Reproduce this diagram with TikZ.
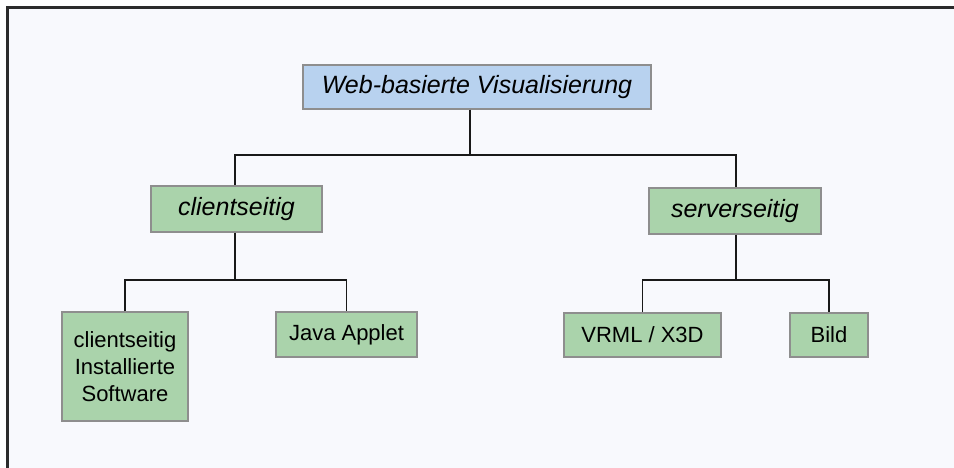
\documentclass[tikz,border=0pt]{standalone}
\usepackage{fontspec}
\setmainfont{Liberation Sans}
\definecolor{pagebg}{HTML}{F8F9FD}
\definecolor{framecol}{HTML}{2B2B2B}
\definecolor{rootfill}{HTML}{B8D2EF}
\definecolor{leaffill}{HTML}{AAD3AB}
\definecolor{boxline}{HTML}{8E8E8E}
\tikzset{
  box/.style={draw=boxline, line width=1.5pt, inner sep=0pt, align=center, text=black},
  rootbox/.style={box, fill=rootfill, font=\fontsize{25}{30}\selectfont\itshape},
  midbox/.style={box, fill=leaffill, font=\fontsize{25}{30}\selectfont\itshape},
  leafbox/.style={box, fill=leaffill, font=\fontsize{22}{27}\selectfont},
  wire/.style={draw=black!90, line width=1.8pt},
}
\begin{document}
\begin{tikzpicture}[x=1pt,y=-1pt]
\useasboundingbox (0,0) rectangle (954,468);
% page background and frame (running past the page edge on the right and bottom)
\fill[pagebg] (7.5,7.5) rectangle (964,478);
\draw[framecol, line width=2.2pt] (7.5,478) -- (7.5,7.5) -- (964,7.5);

% boxes
\node[rootbox, minimum width=348pt, minimum height=44pt] (web) at (477,87) {Web-basierte Visualisierung};
\node[midbox, minimum width=171pt, minimum height=46pt] (client) at (236.5,209) {clientseitig};
\node[midbox, minimum width=172pt, minimum height=46pt] (server) at (735,211) {serverseitig};
\node[leafbox, minimum width=126pt, minimum height=109pt] (soft) at (125,366.5) {clientseitig\\Installierte\\Software};
\node[leafbox, minimum width=141pt, minimum height=45pt] (java) at (346.5,334.5) {Java Applet};
\node[leafbox, minimum width=157pt, minimum height=44pt] (vrml) at (642.5,335) {VRML / X3D};
\node[leafbox, minimum width=78pt, minimum height=44pt] (bild) at (829,335) {Bild};

% junctions
\coordinate (j0) at (470,155);
\coordinate (j1) at (235,280);
\coordinate (j2) at (736,280);

% connectors
\draw[wire] (web.south -| j0) -- (j0);
\draw[wire] (client.north -| j1) |- (j0) -| (server.north -| j2);
\draw[wire] (client.south -| j1) -- (j1);
\draw[wire] (soft.north) |- (j1) -| (java.north);
\draw[wire] (server.south -| j2) -- (j2);
\draw[wire] (vrml.north) |- (j2) -| (bild.north);
\end{tikzpicture}
\end{document}
